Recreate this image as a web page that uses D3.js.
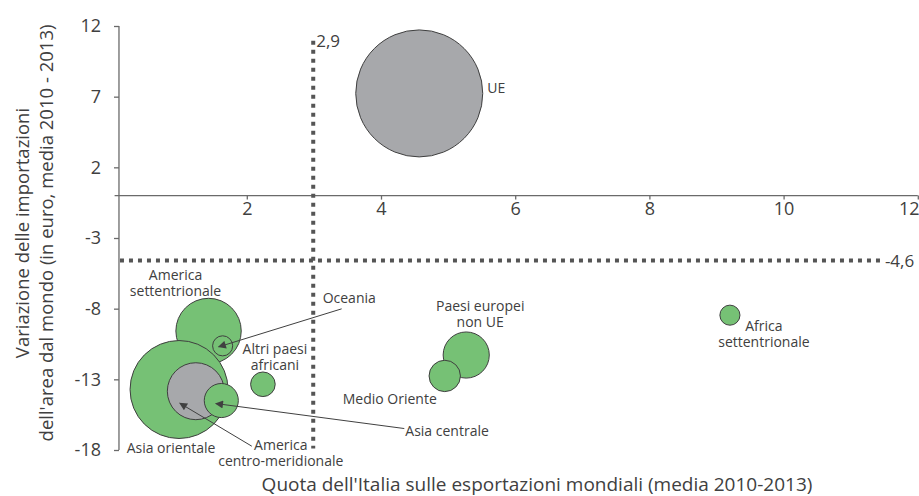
<!DOCTYPE html>
<html><head><meta charset="utf-8">
<script src="https://cdn.jsdelivr.net/npm/d3@7"></script>
<style>
html,body{margin:0;padding:0;background:#fff;}
svg{display:block;font-family:"Open Sans",sans-serif;}
</style></head>
<body>
<svg id="chart" width="919" height="496"></svg>
<script>
// ---- Data ----
const regions = ["America settentrionale","Asia orientale","Oceania","America centro-meridionale","Asia centrale","Altri paesi africani","Paesi europei non UE","Medio Oriente","Africa settentrionale","UE"];
const quota = [1.43, 0.99, 1.64, 1.24, 1.62, 2.24, 5.27, 4.95, 9.20, 4.57];          // x
const variazione = [-9.58, -13.72, -10.63, -13.84, -14.5, -13.35, -11.28, -12.76, -8.46, 7.23]; // y
const peso = [26.5, 59.5, 2.5, 20.1, 7.2, 3.75, 13.2, 6.1, 2.5, 100];              // bubble size
const gruppo = ["verde","verde","verde","grigio","verde","verde","verde","verde","verde","grigio"];
const labelLines = [["America","settentrionale"],["Asia orientale"],["Oceania"],["America","centro-meridionale"],["Asia centrale"],["Altri paesi","africani"],["Paesi europei","non UE"],["Medio Oriente"],["Africa","settentrionale"],["UE"]];
const xTicks = [2, 4, 6, 8, 10, 12];
const yTicks = [12, 7, 2, -3, -8, -13, -18];
const refX = 2.99, refXLabel = "2,9";
const refY = -4.6, refYLabel = "-4,6";
const xTitle = "Quota dell'Italia sulle esportazioni mondiali (media 2010-2013)";
const yTitle = ["Variazione delle importazioni", "dell'area dal mondo (in euro, media 2010 - 2013)"];

// ---- Layout (pixel offsets for labels / arrows) ----
const labelLayout = {
  "America settentrionale": {dx:-33, dy:-56, anchor:"middle"},
  "Asia orientale": {dx:-8, dy:58, anchor:"middle"},
  "Oceania": {dx:100, dy:-48, anchor:"start"},
  "America centro-meridionale": {dx:85, dy:53, anchor:"middle"},
  "Asia centrale": {dx:184, dy:30, anchor:"start"},
  "Altri paesi africani": {dx:12, dy:-36, anchor:"middle"},
  "Paesi europei non UE": {dx:14, dy:-50, anchor:"middle"},
  "Medio Oriente": {dx:-55, dy:23, anchor:"middle"},
  "Africa settentrionale": {dx:34, dy:10, anchor:"middle"},
  "UE": {dx:68, dy:-6, anchor:"start"}
};
const arrowLayout = {
  "Oceania": {x1:119, y1:-37, x2:-4, y2:1},
  "Asia centrale": {x1:183, y1:28, x2:-5.5, y2:3},
  "America centro-meridionale": {x1:56, y1:55, x2:-16, y2:12}
};

const svg = d3.select("#chart");
const x = d3.scaleLinear().domain([0, 12]).range([112.6, 917.8]);
const y = d3.scaleLinear().domain([-18, 12]).range([450, 26]);
const r = d3.scaleSqrt().domain([0, d3.max(peso)]).range([0, 63.5]);
const fill = {verde:"#76c175", grigio:"#a7a8ab"};
const axisColor = "#6a6a6a", textColor = "#404040";
const fmt = d => String(d);

const data = regions.map((name, i) => ({name, x: quota[i], y: variazione[i], s: peso[i], g: gruppo[i], lines: labelLines[i]}));

svg.append("defs").append("marker")
  .attr("id","arr").attr("viewBox","0 0 10 10").attr("refX",9).attr("refY",5)
  .attr("markerWidth",10).attr("markerHeight",8).attr("markerUnits","userSpaceOnUse")
  .attr("orient","auto")
  .append("path").attr("d","M0,0 L10,5 L0,10 z").attr("fill","#404040");

// x axis (at y = 0)
const xAxis = d3.axisBottom(x).tickValues(xTicks).tickSize(4).tickPadding(3).tickFormat(fmt);
const gx = svg.append("g").attr("transform",`translate(0,${y(0)})`).call(xAxis);
gx.select(".domain").attr("d",`M${x(0)+2},0H${x(12)}`).attr("stroke",axisColor).attr("stroke-width",1.3);
gx.selectAll(".tick line").attr("stroke",axisColor).attr("stroke-width",1.3);
gx.selectAll(".tick text").attr("fill",textColor).style("font-size","18px").style("font-family","'Open Sans',sans-serif");
gx.selectAll(".tick text").filter(d=>d===12).attr("text-anchor","end").attr("x", 919 - x(12));

// y axis
const yAxisX = x(0.095);
const yAxis = d3.axisLeft(y).tickValues(yTicks).tickSize(5).tickPadding(13).tickFormat(fmt);
const gy = svg.append("g").attr("transform",`translate(${yAxisX},0)`).call(yAxis);
gy.select(".domain").attr("d",`M0,${y(12)}V${y(-18)}`).attr("stroke",axisColor).attr("stroke-width",1.3);
gy.selectAll(".tick line").attr("stroke",axisColor).attr("stroke-width",1.3);
gy.selectAll(".tick text").attr("fill",textColor).style("font-size","18px").style("font-family","'Open Sans',sans-serif");

// reference dotted lines
svg.append("line").attr("x1",x(refX)).attr("x2",x(refX)).attr("y1",y(10.95)).attr("y2",y(-17.9))
  .attr("stroke","#555").attr("stroke-width",4).attr("stroke-dasharray","4,5");
svg.append("line").attr("x1",yAxisX+1).attr("x2",x(11.45)).attr("y1",y(refY)).attr("y2",y(refY))
  .attr("stroke","#555").attr("stroke-width",4).attr("stroke-dasharray","4,5");
svg.append("text").attr("x",x(refX)+3).attr("y",y(10.95)).attr("dominant-baseline","central")
  .attr("fill",textColor).style("font-size","17px").text(refXLabel);
svg.append("text").attr("x",x(11.45)+4).attr("y",y(refY)).attr("dominant-baseline","central")
  .attr("fill",textColor).style("font-size","17px").text(refYLabel);

// bubbles
svg.append("g").selectAll("circle").data(data).join("circle")
  .attr("cx",d=>x(d.x)).attr("cy",d=>y(d.y)).attr("r",d=>r(d.s))
  .attr("fill",d=>fill[d.g]).attr("stroke","#3f3f3f").attr("stroke-width",1);

// arrows
data.filter(d=>arrowLayout[d.name]).forEach(d=>{
  const a = arrowLayout[d.name], cx = x(d.x), cy = y(d.y);
  svg.append("line").attr("x1",cx+a.x1).attr("y1",cy+a.y1).attr("x2",cx+a.x2).attr("y2",cy+a.y2)
    .attr("stroke","#404040").attr("stroke-width",1).attr("marker-end","url(#arr)");
});

// labels
const lg = svg.append("g");
data.forEach(d=>{
  const L = labelLayout[d.name];
  const t = lg.append("text").attr("text-anchor",L.anchor).attr("fill",textColor).style("font-size","14px");
  d.lines.forEach((line,i)=>{
    t.append("tspan").attr("x",x(d.x)+L.dx).attr("y",y(d.y)+L.dy+i*16).attr("dominant-baseline","central").text(line);
  });
});

// axis titles
svg.append("text").attr("x",537).attr("y",484).attr("text-anchor","middle").attr("dominant-baseline","central")
  .attr("fill",textColor).style("font-size","19px").text(xTitle);
const yt = svg.append("text").attr("transform","translate(0,233) rotate(-90)").attr("text-anchor","middle")
  .attr("fill",textColor).style("font-size","18.5px");
yTitle.forEach((line,i)=>{
  yt.append("tspan").attr("x",0).attr("y",21.5+i*23.5).attr("dominant-baseline","central").text(line);
});
</script>
</body></html>
